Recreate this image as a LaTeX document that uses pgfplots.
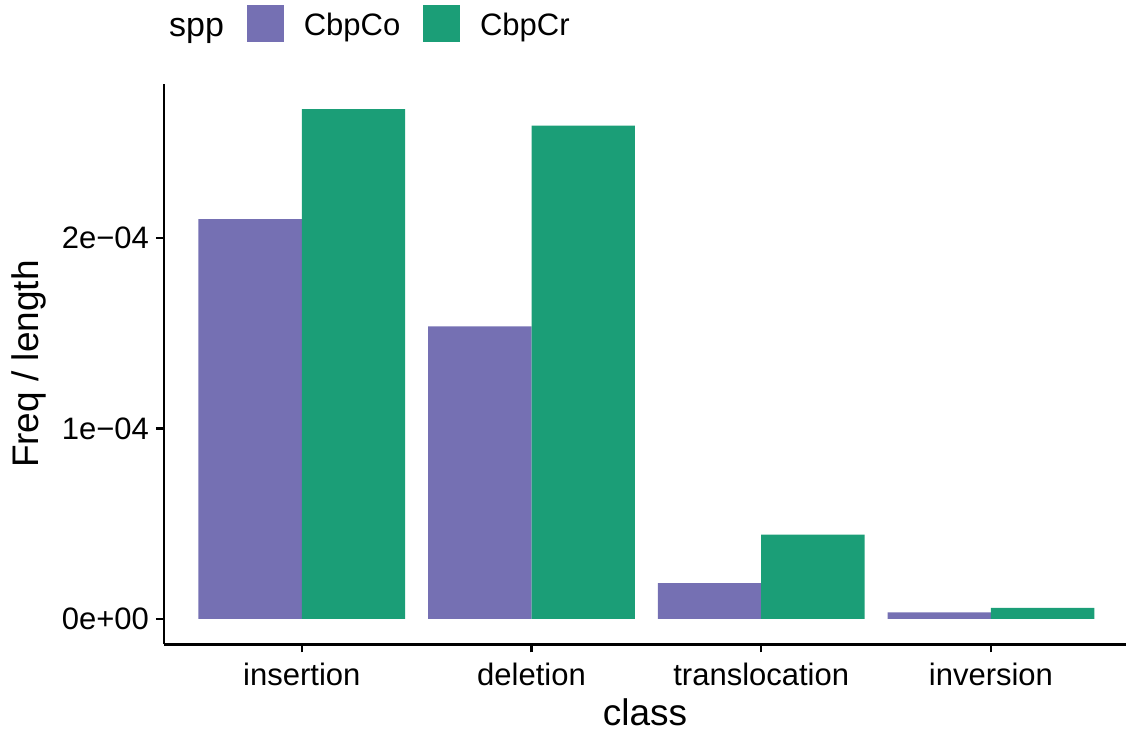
\documentclass[border=0pt]{standalone}
\usepackage{fontspec}
\setmainfont{Liberation Sans}
\usepackage{pgfplots}
\pgfplotsset{compat=1.18}
\definecolor{cco}{HTML}{7570B3}
\definecolor{ccr}{HTML}{1B9E77}
\pgfplotsset{sqlegend/.style={legend image code/.code={\fill[##1] (0pt,-8.25pt) rectangle (18.5pt,10.25pt);}}}
\begin{document}
\begin{tikzpicture}
\path[use as bounding box] (-82pt,-46.75pt) rectangle (481pt,322.25pt);
\begin{axis}[
  at={(0,0)}, anchor=south west,
  scale only axis, width=481pt, height=280.4pt,
  xmin=0.4, xmax=4.588, ymin=-0.0000134, ymax=0.0002812,
  axis x line=bottom, axis y line=left,
  axis line style={-, line width=1.2pt, black},
  ybar=0pt, bar width=0.45,
  xtick={1,2,3,4}, xticklabels={insertion,deletion,translocation,inversion},
  ytick={0,0.0001,0.0002}, yticklabels={0e+00,1e−04,2e−04},
  scaled y ticks=false,
  tick align=outside, major tick length=4pt,
  tick style={line width=1.2pt, black},
  ticklabel style={font=\fontsize{15.5}{18}\selectfont, text=black},
  xticklabel style={yshift=-1.5pt},
  xlabel={class}, ylabel={Freq / length},
  label style={font=\fontsize{18.5}{22}\selectfont},
  xlabel style={at={(axis description cs:0.5,-0.14533)}, anchor=base},
  ylabel style={at={(axis description cs:-0.13046,0.5)}, anchor=base},
  legend style={draw=none, fill=none, at={(axis description cs:-0.0160,1.1056)}, anchor=west,
    legend columns=-1, inner sep=0pt, font=\fontsize{15.5}{18}\selectfont,
    /tikz/every odd column/.style={column sep=8.1pt},
    /tikz/every even column/.style={column sep=9.3pt}},
  legend cell align=left,
]
\addlegendimage{empty legend}
\addlegendentry{\fontsize{17}{20}\selectfont spp\vphantom{Cb}}
\addplot[fill=cco, draw=none, sqlegend] coordinates {(1,0.000210) (2,0.0001537) (3,0.0000189) (4,0.0000035)};
\addlegendentry{CbpCo}
\addplot[fill=ccr, draw=none, sqlegend] coordinates {(1,0.0002678) (2,0.0002592) (3,0.0000443) (4,0.0000058)};
\addlegendentry{CbpCr}
\end{axis}
\end{tikzpicture}
\end{document}
